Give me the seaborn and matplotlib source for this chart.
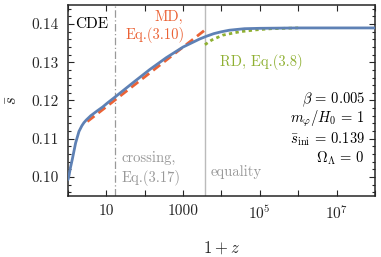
import numpy as np
import pandas as pd
import matplotlib
matplotlib.use("Agg")
import matplotlib.pyplot as plt
import matplotlib.ticker as mticker
import seaborn as sns

# ---- data ----
cde_1pz = [1, 1.06, 1.15, 1.3, 1.58, 1.93, 2.3, 2.6, 3.0, 3.9, 5.8, 8, 10.5,
           17.8, 50, 135, 363, 1000, 2700, 4000, 6300, 1e4,
           1.6e4, 2.5e4, 4e4, 1e5, 1e6, 1e8]
cde_s = [0.0993, 0.1003, 0.1023, 0.1047, 0.1089, 0.1119, 0.1134, 0.1142,
         0.1149, 0.1160, 0.1173, 0.1183, 0.1193, 0.1211, 0.1247, 0.1281,
         0.1312, 0.1340, 0.1361, 0.1368, 0.1375, 0.1380, 0.1384, 0.1386,
         0.1388, 0.1389, 0.1390, 0.1390]
md_1pz = [3.2, 4000]
md_s = [0.1145, 0.1387]
rd_1pz = [3700, 5500, 1.07e4, 3e4, 8e4, 2e5, 1e6]
rd_s = [0.1346, 0.1358, 0.1371, 0.1380, 0.1385, 0.1388, 0.1390]
crossing_1pz = 17
equality_1pz = 3700
params = [r"$\beta\,=\,0.005$", r"$m_\varphi/H_0\,=\,1$",
          r"$\bar{s}_{\rm ini}\,=\,0.139$", r"$\Omega_\Lambda\,=\,0$"]
xtick_vals = [10, 1000, 1e5, 1e7]
xtick_labels = ["10", "1000", r"$10^5$", r"$10^7$"]
ytick_vals = [0.10, 0.11, 0.12, 0.13, 0.14]
ytick_labels = ["0.10", "0.11", "0.12", "0.13", "0.14"]

BLUE = "#5E81B5"
RED = "#EB6235"
GREEN = "#8FB032"
GRAY = "#999999"

sns.set_style("ticks")
plt.rcParams["font.family"] = ["cmr10", "DejaVu Serif"]
plt.rcParams["mathtext.fontset"] = "cm"
plt.rcParams["axes.unicode_minus"] = False
plt.rcParams["axes.formatter.use_mathtext"] = True

fig = plt.figure(figsize=(3.81, 2.57), dpi=100)
ax = fig.add_axes([0.1785, 0.2374, 0.984 - 0.1785, 0.9805 - 0.2374])

ax.axvline(crossing_1pz, color=GRAY, lw=0.9, ls=(0, (6, 2, 1, 2)), zorder=1)
ax.axvline(equality_1pz, color="#BBBBBB", lw=1.0, zorder=1)

df_rd = pd.DataFrame({"x": rd_1pz, "s": rd_s})
df_md = pd.DataFrame({"x": md_1pz, "s": md_s})
df_cde = pd.DataFrame({"x": cde_1pz, "s": cde_s})
sns.lineplot(data=df_rd, x="x", y="s", ax=ax, color=GREEN, lw=2.0,
             linestyle=(0, (1.2, 1.2)), zorder=2)
sns.lineplot(data=df_md, x="x", y="s", ax=ax, color=RED, lw=2.0,
             linestyle=(0, (3.2, 1.8)), zorder=3)
sns.lineplot(data=df_cde, x="x", y="s", ax=ax, color=BLUE, lw=2.0, zorder=4)

ax.set_xscale("log")
ax.set_xlim(1, 1e8)
ax.set_ylim(0.095, 0.145)

ax.xaxis.set_minor_locator(mticker.NullLocator())
ax.set_xticks([10**k for k in range(0, 9)])
ax.set_xticklabels(["" if 10**k not in xtick_vals else
                    xtick_labels[xtick_vals.index(10**k)] for k in range(0, 9)])
ax.set_yticks(ytick_vals)
ax.set_yticklabels(ytick_labels)
ax.yaxis.set_minor_locator(mticker.MultipleLocator(0.002))

ax.tick_params(which="both", direction="in", top=True, right=True,
               labelsize=11, width=0.8)
ax.tick_params(axis="y", pad=7)
ax.tick_params(axis="x", pad=6)
ax.tick_params(which="major", length=4)
ax.tick_params(which="minor", length=2)
for sp in ax.spines.values():
    sp.set_linewidth(1.1)

ax.set_xlabel(r"$1+z$", fontsize=12, labelpad=12)
ax.set_ylabel(r"$\bar{s}$", fontsize=12)
ax.yaxis.set_label_coords(-0.155, 0.5)

ax.text(0.022, 0.9, "CDE", transform=ax.transAxes, fontsize=11,
        ha="left", va="center", color="black")
ax.text(0.375, 0.935, "MD,", transform=ax.transAxes, fontsize=10.5,
        ha="right", va="center", color=RED)
ax.text(0.381, 0.845, "Eq.(3.10)", transform=ax.transAxes, fontsize=10.5,
        ha="right", va="center", color=RED)
ax.text(0.495, 0.7, "RD, Eq.(3.8)", transform=ax.transAxes, fontsize=10.5,
        ha="left", va="center", color=GREEN)
ax.text(0.175, 0.2, "crossing,", transform=ax.transAxes, fontsize=10.5,
        ha="left", va="center", color=GRAY)
ax.text(0.175, 0.095, "Eq.(3.17)", transform=ax.transAxes, fontsize=10.5,
        ha="left", va="center", color=GRAY)
ax.text(0.465, 0.126, "equality", transform=ax.transAxes, fontsize=10.5,
        ha="left", va="center", color=GRAY)
for i, t in enumerate(params):
    ax.text(0.968, 0.505 - i * 0.103, t, transform=ax.transAxes, fontsize=10.5,
            ha="right", va="center", color="black")

fig.savefig("out.png", dpi=100)
